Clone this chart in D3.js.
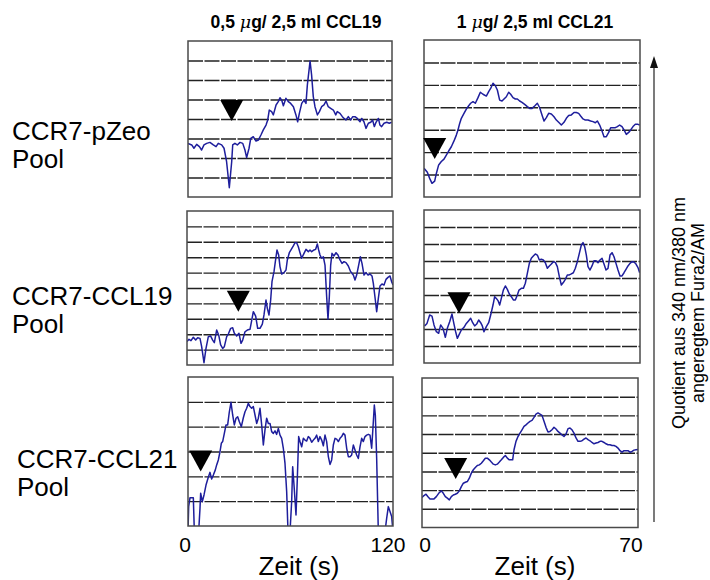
<!DOCTYPE html>
<html>
<head>
<meta charset="utf-8">
<script src="https://cdn.jsdelivr.net/npm/d3@7"></script>
<style>
  html, body { margin: 0; padding: 0; background: #fff; }
  svg { display: block; font-family: "Liberation Sans", Arial, sans-serif; }
</style>
</head>
<body>
<svg id="chart" width="710" height="580"></svg>
<script>
// Cell lines (rows) and stimulation conditions (columns)
const rowLabels = ["CCR7-pZeo", "CCR7-CCL19", "CCR7-CCL21"];
const columnTitles = [["0,5 ", "μ", "g/ 2,5 ml CCL19"], ["1 ", "μ", "g/ 2,5 ml CCL21"]];
const durations = [120, 70];            // seconds recorded per column
const timeTicks = [[0, 120], [0, 70]];
const timeLabel = "Zeit (s)";
const ratioLabel = ["Quotient aus 340 nm/380 nm", "angeregtem Fura2/AM"];

// Number of grid bands per panel [row][column]; ratio values are given in band units
const gridBands = [[8, 7], [10, 9], [6, 8]];

// Moment of chemokine addition (s) and trace level at that moment
const addTime = [[25.7, 3.47], [29.9, 11.34], [7.43, 10.92]];
const addLevel = [[3.9, 1.69], [3.46, 2.92], [2.19, 2.59]];

// CCR7-pZeo, 0,5 µg CCL19
const pZeo19_t = [0,2.2,3.5,5.1,6.7,8.0,9.4,11.0,12.9,14.9,16.5,17.8,19.8,21.2,22.7,24.3,25.7,26.3,27.6,29.0,30.6,32.2,33.5,34.5,35.9,36.9,38.4,40.0,41.4,42.9,44.3,45.9,46.9,47.8,49.2,50.2,51.8,53.1,54.1,55.1,56.1,57.6,59.0,60.4,62.0,63.5,64.5,65.5,66.9,68.2,69.4,70.2,71.8,72.7,73.7,74.7,76.1,77.3,78.6,80.0,81.2,82.5,83.9,85.5,86.9,87.8,89.4,90.8,91.8,92.9,94.3,95.7,96.9,98.2,99.6,101.2,102.2,103.5,104.7,106.1,107.5,108.6,109.6,110.6,112.0,112.9,113.9,115.3,116.9,118.4,119.8];
const pZeo19_v = [2.75,2.67,2.50,2.70,2.58,2.41,2.67,2.75,2.80,2.67,2.58,2.75,2.67,2.50,1.81,0.48,1.81,2.67,2.75,2.67,2.80,2.75,2.41,2.02,2.50,3.01,3.09,2.87,2.92,3.18,3.44,3.69,3.95,4.46,4.38,4.21,4.72,4.89,5.09,4.97,4.68,5.06,4.89,4.80,4.63,4.21,3.86,4.29,4.80,4.97,4.80,5.74,6.97,6.26,5.15,4.63,4.21,4.38,4.63,4.72,4.92,4.63,4.55,4.46,4.21,4.38,4.29,4.12,4.03,3.95,4.12,3.95,4.12,4.12,4.03,3.86,4.03,3.86,3.52,3.78,3.83,3.95,3.61,3.83,4.03,3.69,3.61,3.78,3.83,3.78,3.83];

// CCR7-pZeo, 1 µg CCL21
const pZeo21_t = [0,1.08,1.84,2.59,3.46,4.0,4.75,5.62,6.48,7.24,7.99,8.86,9.72,10.48,11.02,11.56,12.10,12.96,13.72,14.48,15.12,15.88,16.64,17.5,18.26,19.12,20.2,20.96,21.6,22.36,23.12,23.77,24.52,25.28,25.93,26.68,27.44,28.09,28.84,29.6,30.25,31.0,31.76,32.62,33.49,34.24,35.0,35.86,36.73,37.49,38.24,38.89,39.65,40.4,41.27,42.13,42.89,43.64,44.51,45.37,46.13,46.88,47.75,48.61,49.37,50.12,50.77,51.53,52.28,53.15,54.01,54.77,55.53,56.17,56.93,57.69,58.33,59.09,59.85,60.49,61.25,62.01,62.66,63.41,64.17,64.82,65.57,66.33,66.98,67.73,68.49,69.35,69.89];
const pZeo21_v = [1.28,1.10,0.83,0.61,0.71,1.05,1.43,1.58,1.69,1.87,2.05,2.24,2.50,2.76,2.99,3.28,3.51,3.73,3.92,4.07,4.18,4.25,4.18,4.43,4.67,4.58,4.50,4.70,4.84,5.07,4.96,4.77,4.32,4.28,4.37,4.47,4.67,4.58,4.43,4.37,4.37,4.28,4.22,4.13,4.03,3.95,3.95,4.06,4.18,3.98,3.66,3.39,3.54,3.73,3.70,3.58,3.43,3.33,3.21,3.33,3.51,3.63,3.66,3.77,3.77,3.73,3.61,3.48,3.43,3.43,3.39,3.36,3.31,3.39,3.21,2.94,2.69,2.69,2.88,3.09,3.09,3.09,3.14,3.21,3.14,2.99,2.79,2.88,2.99,3.14,3.24,3.24,3.21];

// CCR7-CCL19, 0,5 µg CCL19
const ccl19_19_t = [0,1.17,2.33,3.69,5.05,6.21,7.57,8.54,9.90,11.07,12.43,13.79,14.95,15.92,17.28,18.45,19.61,20.78,21.75,23.11,24.08,25.44,26.60,27.57,28.93,30.29,31.46,32.43,33.79,35.15,36.70,37.67,38.64,40.0,41.17,42.52,43.88,44.85,46.02,46.80,47.77,48.74,49.51,50.68,51.46,52.43,53.40,54.17,55.15,56.50,57.67,58.45,59.61,60.58,61.94,62.91,63.88,64.85,65.83,66.80,68.16,69.32,70.68,71.65,72.62,73.98,74.95,75.92,76.70,77.48,78.45,79.42,80.39,81.36,82.14,82.91,83.69,84.47,85.63,86.80,87.96,89.13,90.29,91.46,92.62,93.98,95.34,96.89,97.86,98.83,100.0,100.97,101.94,103.11,104.27,105.44,106.60,107.77,108.54,109.71,110.49,111.46,112.43,113.59,114.76,115.92,117.09,118.25,119.22,120];
const ccl19_19_v = [1.52,1.67,1.58,1.80,1.62,1.77,1.73,1.19,0.15,1.08,1.84,1.88,1.62,1.45,2.27,1.95,1.30,1.08,1.19,1.84,2.01,2.38,2.42,2.06,1.88,2.06,1.41,1.62,2.16,2.27,2.32,2.88,3.46,3.18,2.38,2.38,2.66,3.25,4.22,3.68,3.25,4.22,5.41,6.06,6.71,7.47,7.14,6.39,5.91,6.0,6.17,6.82,7.29,7.47,7.73,7.94,7.94,7.68,7.29,6.93,7.25,7.51,7.36,7.47,7.36,7.47,7.51,7.86,7.47,7.14,6.93,7.03,6.49,4.44,2.97,4.44,6.49,7.25,7.08,7.29,7.14,6.82,6.60,6.71,6.65,6.43,6.06,5.84,5.52,5.84,6.49,7.03,6.60,5.84,6.0,5.84,5.91,5.78,5.30,4.22,3.46,4.33,5.13,5.26,5.19,5.56,5.69,5.78,5.41,5.19];

// CCR7-CCL19, 1 µg CCL21
const ccl19_21_t = [0.2,0.97,1.84,2.59,3.24,4.0,4.75,5.40,6.16,6.91,7.56,8.32,9.07,9.72,10.26,10.80,11.34,12.10,12.96,13.72,14.48,15.12,15.77,16.42,17.07,17.72,18.36,18.90,19.44,20.20,20.96,21.61,22.36,22.90,23.44,23.98,24.52,25.06,25.71,26.36,27.01,27.65,28.30,28.95,29.60,30.25,30.79,31.55,32.20,32.84,33.49,34.14,34.78,35.43,36.08,36.73,37.38,38.03,38.67,39.32,39.97,40.62,41.27,41.91,42.56,43.21,43.86,44.51,45.15,45.80,46.45,47.10,47.75,48.40,49.04,49.69,50.34,50.99,51.53,52.07,52.61,53.15,53.80,54.45,55.09,55.74,56.39,57.04,57.69,58.33,58.98,59.63,60.28,60.93,61.58,62.22,62.87,63.52,64.17,64.82,65.46,66.11,66.76,67.41,68.06,68.70,69.35,69.89];
const ccl19_21_v = [2.18,2.33,2.82,2.76,2.24,1.84,1.75,2.24,2.04,1.51,2.04,2.43,2.88,2.29,1.84,1.45,1.65,1.94,2.10,2.33,2.49,2.63,2.37,2.18,2.29,2.53,2.37,2.18,1.84,2.14,2.37,2.82,3.41,3.90,3.80,3.67,3.41,3.80,4.29,4.53,4.33,4.06,3.90,3.71,3.71,4.0,4.29,4.39,4.39,4.69,5.27,5.86,6.16,6.29,6.41,6.35,6.06,6.10,6.06,5.90,5.57,5.71,5.82,5.96,5.92,5.67,5.08,4.59,4.73,4.92,5.18,5.18,5.24,5.31,5.57,5.96,6.45,6.94,7.08,6.84,6.35,5.67,5.47,5.71,6.02,6.02,5.90,6.06,6.16,5.82,5.47,5.57,6.35,6.49,6.25,5.86,5.47,5.12,5.12,5.31,5.51,5.71,5.86,5.96,5.94,5.82,5.61,5.31];

// CCR7-CCL21, 0,5 µg CCL19 (trace leaves the plotted range several times)
const ccl21_19_t = [0,0.39,1.17,3.12,3.71,6.24,7.02,7.41,8.39,9.37,10.54,11.71,12.88,13.85,14.83,16.0,16.78,17.76,18.73,19.51,20.29,21.27,22.24,23.22,24.20,25.17,26.15,27.12,28.10,29.07,30.05,31.22,32.39,33.37,34.34,35.32,36.29,37.27,38.24,39.22,40.20,41.17,42.15,43.12,44.10,45.07,46.05,47.02,48.0,48.98,49.95,50.93,51.90,52.88,53.85,54.83,55.80,56.78,57.76,58.54,59.71,60.68,61.27,62.05,63.22,64.0,64.78,65.56,66.54,67.51,68.49,69.46,70.44,71.41,72.39,73.37,74.34,75.32,76.29,77.27,78.24,79.22,80.20,81.17,82.15,83.12,84.10,85.07,86.05,87.02,88.0,88.98,89.95,90.93,91.90,92.88,93.85,94.83,95.80,96.78,97.76,98.73,99.71,100.68,101.66,102.63,103.61,104.59,105.56,106.54,107.51,108.49,109.07,109.66,110.44,111.41,115.32,116.29,117.27,118.24,119.22,120];
const ccl21_19_v = [-0.23,0.78,1.14,1.14,-0.23,-0.23,0.71,1.32,0.98,1.25,1.65,1.92,2.16,1.89,2.05,2.26,2.46,2.66,2.99,3.33,3.40,3.73,4.07,4.07,4.60,4.98,4.47,4.07,4.34,4.40,4.20,4.0,4.36,4.60,4.74,4.94,4.81,4.74,4.81,4.47,4.13,4.34,4.74,4.07,3.26,3.87,4.34,4.13,4.13,3.80,3.73,3.83,3.69,3.93,3.66,3.53,3.13,2.52,1.38,-0.23,-0.23,0.98,2.39,1.65,0.44,1.92,3.60,3.40,3.19,3.53,3.46,3.42,3.60,3.53,3.37,3.46,3.53,3.66,3.40,3.60,3.46,3.23,3.66,3.40,2.79,2.48,2.66,3.26,3.53,3.50,3.40,3.53,3.60,3.73,3.66,3.13,2.79,2.79,2.86,3.26,3.06,2.86,2.72,3.19,3.53,3.40,3.60,3.66,3.69,3.66,3.13,4.20,4.87,4.47,2.72,-0.23,-0.23,0.31,0.78,0.58,0.38,-0.23];

// CCR7-CCL21, 1 µg CCL21
const ccl21_21_t = [0,0.65,1.30,1.94,2.59,3.24,3.89,4.65,5.40,6.27,6.91,7.56,8.21,8.86,9.51,10.15,10.80,11.45,12.10,12.75,13.40,14.04,14.69,15.34,15.99,16.64,17.28,17.93,18.58,19.23,19.88,20.53,21.17,21.82,22.47,23.12,23.77,24.41,25.06,25.71,26.36,27.01,27.65,28.30,28.95,29.38,29.82,30.46,31.11,31.76,32.41,33.06,33.70,34.35,35.0,35.65,36.30,36.94,37.59,38.24,38.89,39.54,40.19,40.83,41.48,42.13,42.78,43.43,44.07,44.72,45.37,46.02,46.67,47.32,47.96,48.61,49.26,49.91,50.56,51.20,51.85,52.50,53.15,53.80,54.44,55.09,55.74,56.39,57.04,57.69,58.33,58.98,59.63,60.28,60.93,61.58,62.22,62.87,63.52,64.17,64.82,65.46,66.11,66.76,67.41,68.06,68.70,69.35,70.0];
const ccl21_21_v = [1.60,1.71,1.78,1.65,1.53,1.53,1.53,1.65,1.83,1.96,1.83,1.65,1.57,1.48,1.65,1.74,1.78,1.83,1.96,2.19,2.37,2.42,2.46,2.64,2.91,3.09,3.21,3.32,3.35,3.44,3.57,3.71,3.71,3.62,3.50,3.39,3.35,3.39,3.50,3.62,3.75,3.85,3.71,3.62,3.62,3.62,4.16,4.61,4.87,5.05,5.23,5.41,5.49,5.59,5.68,5.73,5.89,6.07,6.13,6.07,6.0,5.68,5.36,5.11,5.14,5.23,5.36,5.27,5.14,5.05,4.96,4.87,5.0,5.29,5.32,5.23,5.05,4.79,4.61,4.61,4.64,4.73,4.79,4.70,4.64,4.55,4.48,4.52,4.55,4.61,4.61,4.55,4.48,4.43,4.43,4.39,4.39,4.34,4.25,4.11,4.03,4.11,4.11,4.11,4.03,4.07,4.14,4.16,4.17];

const traceTimes = [[pZeo19_t, pZeo21_t], [ccl19_19_t, ccl19_21_t], [ccl21_19_t, ccl21_21_t]];
const traceValues = [[pZeo19_v, pZeo21_v], [ccl19_19_v, ccl19_21_v], [ccl21_19_v, ccl21_21_v]];

// ---- layout ----
const boxes = [
  [{x0: 188, x1: 392, y0: 41, y1: 197}, {x0: 424, x1: 640, y0: 40, y1: 197}],
  [{x0: 187, x1: 393, y0: 211, y1: 365}, {x0: 424, x1: 640, y0: 210, y1: 363}],
  [{x0: 188, x1: 393, y0: 377, y1: 526}, {x0: 422, x1: 638, y0: 378, y1: 527.5}]
];
const traceColor = "#1e1e9c";
const svg = d3.select("#chart");

const defs = svg.append("defs");

boxes.forEach((row, r) => {
  row.forEach((b, c) => {
    const x = d3.scaleLinear().domain([0, durations[c]]).range([b.x0, b.x1]);
    const y = d3.scaleLinear().domain([0, gridBands[r][c]]).range([b.y1, b.y0]);
    const g = svg.append("g");

    const clipId = `clip-${r}-${c}`;
    defs.append("clipPath").attr("id", clipId)
      .append("rect").attr("x", b.x0).attr("y", b.y0)
      .attr("width", b.x1 - b.x0).attr("height", b.y1 - b.y0);

    // horizontal grid at every band boundary
    const gridAxis = d3.axisLeft(y)
      .tickValues(d3.range(1, gridBands[r][c]))
      .tickSize(-(b.x1 - b.x0)).tickFormat("");
    const grid = g.append("g").attr("transform", `translate(${b.x0},0)`).call(gridAxis);
    grid.select(".domain").remove();
    grid.selectAll(".tick line")
      .attr("stroke", "#222").attr("stroke-width", 1.4)
      .attr("stroke-dasharray", "15 1.5");

    // fura-2 ratio trace
    const line = d3.line().x(d => x(d[0])).y(d => y(d[1]));
    const pts = d3.zip(traceTimes[r][c], traceValues[r][c]);
    g.append("path").datum(pts)
      .attr("clip-path", `url(#${clipId})`)
      .attr("d", line).attr("fill", "none")
      .attr("stroke", traceColor).attr("stroke-width", 1.5)
      .attr("stroke-linejoin", "round");

    // frame
    g.append("rect").attr("x", b.x0).attr("y", b.y0)
      .attr("width", b.x1 - b.x0).attr("height", b.y1 - b.y0)
      .attr("fill", "none").attr("stroke", "#4a4a4a").attr("stroke-width", 1.5);

    // arrowhead marking chemokine addition
    const tx = x(addTime[r][c]), ty = y(addLevel[r][c]);
    g.append("path")
      .attr("d", `M${tx},${ty} L${tx - 11.5},${ty - 21} L${tx + 11.5},${ty - 21} Z`)
      .attr("fill", "#000");

    // time ticks under the bottom row
    if (r === 2) {
      const [t0, t1] = timeTicks[c];
      const offs = c === 0 ? [-3, -5] : [3, -7];
      svg.append("text").attr("x", x(t0) + offs[0]).attr("y", 552)
        .attr("text-anchor", "middle").attr("font-size", 21).text(t0);
      svg.append("text").attr("x", x(t1) + offs[1]).attr("y", 552)
        .attr("text-anchor", "middle").attr("font-size", 21).text(t1);
      svg.append("text").attr("x", c === 0 ? 299 : 535).attr("y", 575)
        .attr("text-anchor", "middle").attr("font-size", 26).text(timeLabel);
    }
  });
});

// column titles
columnTitles.forEach((parts, c) => {
  const t = svg.append("text").attr("x", c === 0 ? 296 : 535).attr("y", 28)
    .attr("text-anchor", "middle").attr("font-size", 17.5).attr("font-weight", "bold");
  t.append("tspan").text(parts[0]);
  t.append("tspan").attr("font-style", "italic").attr("font-family", "DejaVu Serif").attr("font-weight", "normal").text(parts[1]);
  t.append("tspan").text(parts[2]);
});

// row labels
const rowY = [140, 305, 468];
const rowX = [12, 12, 17];
rowLabels.forEach((lab, r) => {
  const t = svg.append("text").attr("x", rowX[r]).attr("y", rowY[r]).attr("font-size", 26);
  t.append("tspan").attr("x", rowX[r]).text(lab);
  t.append("tspan").attr("x", rowX[r]).attr("dy", 28).text("Pool");
});

// ratio axis arrow
svg.append("line").attr("x1", 654).attr("x2", 654).attr("y1", 522).attr("y2", 64)
  .attr("stroke", "#333").attr("stroke-width", 1.3);
svg.append("path").attr("d", "M654,56 L650,68 L658,68 Z").attr("fill", "#111");
const yl = svg.append("text").attr("transform", "translate(685,313) rotate(-90)")
  .attr("text-anchor", "middle").attr("font-size", 18);
yl.append("tspan").attr("x", 0).attr("y", 0).text(ratioLabel[0]);
yl.append("tspan").attr("x", 0).attr("y", 19).text(ratioLabel[1]);
</script>
</body>
</html>
